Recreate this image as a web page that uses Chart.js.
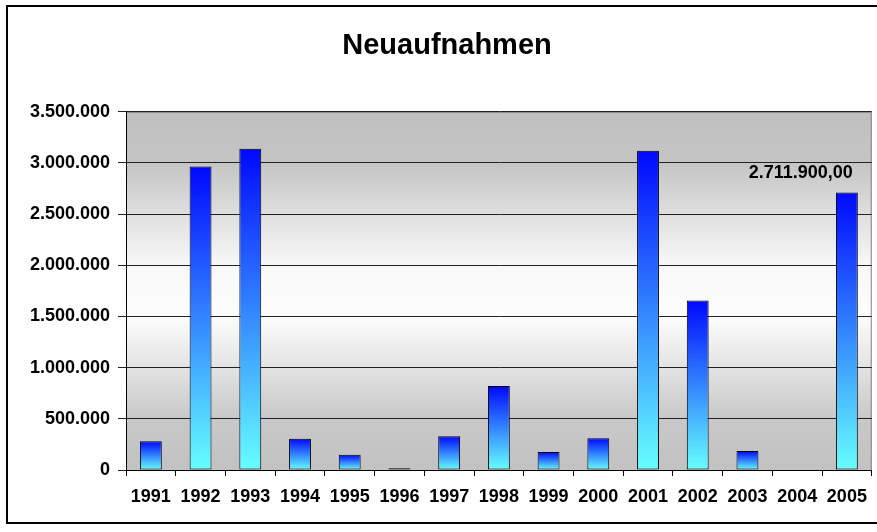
<!DOCTYPE html>
<html>
<head>
<meta charset="utf-8">
<script src="https://cdn.jsdelivr.net/npm/chart.js@4"></script>
<style>
    html, body { margin: 0; padding: 0; background: #fff; }
    #wrap { width: 877px; height: 532px; position: relative; }
</style>
</head>
<body>
<div id="wrap"><canvas id="chart"></canvas></div>
<script>
        // Data
        const years = ['1991', '1992', '1993', '1994', '1995', '1996', '1997', '1998',
                       '1999', '2000', '2001', '2002', '2003', '2004', '2005'];
        const neuaufnahmen = [280000, 2965000, 3140000, 305000, 150000, 16000, 330000, 820000,
                              175000, 310000, 3120000, 1655000, 185000, 0, 2711900];
        const labelledYears = ['2005'];
        const yMax = 3500000;
        const yStep = 500000;

        const fontFamily = '"Liberation Sans", Arial, sans-serif';

        // German number format: 1.234.567,00
        function formatDE(value, decimals) {
            const parts = value.toFixed(decimals).split('.');
            const intPart = parts[0].replace(/\B(?=(\d{3})+(?!\d))/g, '.');
            return parts.length > 1 ? intPart + ',' + parts[1] : intPart;
        }

        // Bar gradient, dark blue at the top to cyan at the bottom of each bar
        function barGradient(context) {
            const chart = context.chart;
            const { ctx, chartArea, scales } = chart;
            if (!chartArea) return '#3377ff';
            const value = context.raw || 0;
            const top = scales.y.getPixelForValue(value);
            const bottom = scales.y.getPixelForValue(0);
            if (bottom - top < 3) return '#000';
            const g = ctx.createLinearGradient(0, top, 0, bottom);
            g.addColorStop(0, '#0008ff');
            g.addColorStop(0.5, '#3385ff');
            g.addColorStop(1, '#66ffff');
            return g;
        }

        // Plot background and outer frame
        const backgroundPlugin = {
            id: 'plotBackground',
            beforeDraw(chart) {
                const { ctx, chartArea: a } = chart;
                ctx.save();
                ctx.fillStyle = '#fff';
                ctx.fillRect(0, 0, chart.width, chart.height);
                const g = ctx.createLinearGradient(0, a.top, 0, a.bottom);
                g.addColorStop(0, '#c0c0c0');
                g.addColorStop(0.14, '#c4c4c4');
                g.addColorStop(0.43, '#f8f8f8');
                g.addColorStop(0.57, '#fdfdfd');
                g.addColorStop(0.86, '#c8c8c8');
                g.addColorStop(1, '#c2c2c2');
                ctx.fillStyle = g;
                ctx.fillRect(a.left, a.top, a.right - a.left, a.bottom - a.top);
                ctx.strokeStyle = '#808080';
                ctx.lineWidth = 1;
                ctx.strokeRect(a.left + 0.5, a.top + 0.5, a.right - a.left - 1, a.bottom - a.top);
                ctx.strokeStyle = '#000';
                ctx.lineWidth = 2;
                ctx.strokeRect(7, 6, chart.width + 10, 517);
                ctx.restore();
            }
        };

        // Value label above selected bars
        const valueLabelPlugin = {
            id: 'valueLabel',
            afterDatasetsDraw(chart) {
                const { ctx } = chart;
                const meta = chart.getDatasetMeta(0);
                ctx.save();
                ctx.font = 'bold 18px ' + fontFamily;
                ctx.fillStyle = '#000';
                ctx.textAlign = 'right';
                ctx.textBaseline = 'alphabetic';
                years.forEach((year, i) => {
                    if (!labelledYears.includes(year)) return;
                    const bar = meta.data[i];
                    ctx.fillText(formatDE(neuaufnahmen[i], 2), bar.x + bar.width / 2 - 5, bar.y - 14);
                });
                ctx.restore();
            }
        };

        const ctx = document.getElementById('chart').getContext('2d');
        const chart = new Chart(ctx, {
            type: 'bar',
            data: {
                labels: years,
                datasets: [{
                    label: 'Neuaufnahmen',
                    data: neuaufnahmen,
                    backgroundColor: barGradient,
                    borderColor: '#000',
                    borderWidth: 1,
                    borderSkipped: false,
                    barPercentage: 0.44,
                    categoryPercentage: 1
                }]
            },
            options: {
                responsive: true,
                maintainAspectRatio: false,
                animation: false,
                layout: {
                    padding: { top: 0, left: 20, right: 3, bottom: 0 }
                },
                scales: {
                    y: {
                        min: 0,
                        max: yMax,
                        ticks: {
                            stepSize: yStep,
                            color: '#000',
                            padding: 8,
                            font: { family: fontFamily, size: 18, weight: 'bold' },
                            callback: value => formatDE(value, 0)
                        },
                        grid: {
                            color: '#222',
                            lineWidth: 1,
                            tickLength: 8,
                            drawTicks: true
                        },
                        border: { display: true, color: '#000', width: 1 },
                        afterFit(scale) { scale.width = 106; }
                    },
                    x: {
                        ticks: {
                            color: '#000',
                            padding: 10,
                            maxRotation: 0,
                            autoSkip: false,
                            font: { family: fontFamily, size: 18, weight: 'bold' }
                        },
                        grid: {
                            offset: true,
                            drawOnChartArea: false,
                            drawTicks: true,
                            tickLength: 6,
                            color: '#000'
                        },
                        border: { display: true, color: '#000', width: 1 },
                        afterFit(scale) { scale.height = 62; }
                    }
                },
                plugins: {
                    legend: { display: false },
                    tooltip: { enabled: false },
                    title: {
                        display: true,
                        text: 'Neuaufnahmen',
                        color: '#000',
                        font: { family: fontFamily, size: 29, weight: 'bold' },
                        padding: { top: 29, bottom: 48 }
                    }
                }
            },
            plugins: [backgroundPlugin, valueLabelPlugin]
        });
</script>
</body>
</html>
